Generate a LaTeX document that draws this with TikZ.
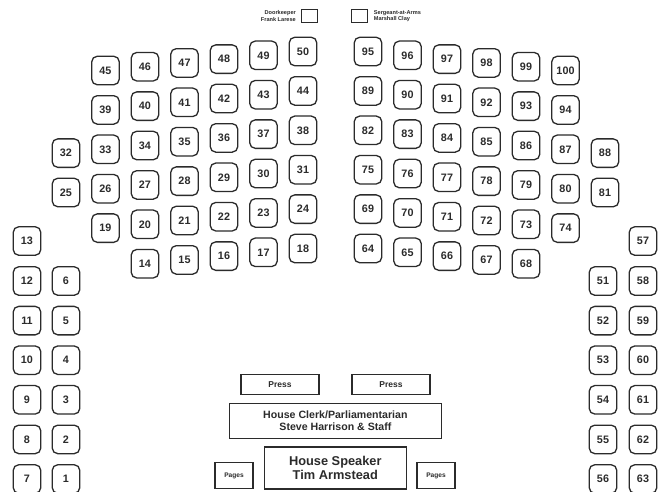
\documentclass[tikz,border=0pt]{standalone}
\usepackage{fontspec}
\setmainfont{Liberation Sans}
\definecolor{ink}{HTML}{2B2B2B}
\begin{document}
\begin{tikzpicture}[x=1pt,y=-1pt,
  seat/.style={draw=ink,line width=1.3pt,rounded corners=5.5pt,minimum width=27.5pt,minimum height=28.5pt,inner sep=0pt,text=ink,font=\fontsize{10.8}{12}\selectfont\bfseries},
  desk/.style={draw=ink,line width=1.2pt,inner sep=0pt,text=ink,align=center},
  tiny/.style={text=ink,font=\fontsize{5.6}{6.6}\selectfont\bfseries,inner sep=0pt}]
\useasboundingbox (0,0) rectangle (659,491);
\fill[white] (0,0) rectangle (659,491);
% left block
\foreach \r/\l in {0/{50,49,48,47,46,45},1/{44,43,42,41,40,39},2/{38,37,36,35,34,33,32},3/{31,30,29,28,27,26,25},4/{24,23,22,21,20,19},5/{18,17,16,15,14}}{
  \foreach \n [count=\c from 0] in \l {
    \node[seat] (s\n) at ({303-39.5*\c},{51.5+39.4*\r+3.8*\c}) {\n};
  }
}
% right block
\foreach \r/\l in {0/{95,96,97,98,99,100},1/{89,90,91,92,93,94},2/{82,83,84,85,86,87,88},3/{75,76,77,78,79,80,81},4/{69,70,71,72,73,74},5/{64,65,66,67,68}}{
  \foreach \n [count=\c from 0] in \l {
    \node[seat] (s\n) at ({368+39.5*\c},{51.5+39.4*\r+3.8*\c}) {\n};
  }
}
% side columns
\node[seat] (s13) at (27,241) {13};
\node[seat] (s57) at (643,241) {57};
\foreach \a/\b/\k in {12/6/0,11/5/1,10/4/2,9/3/3,8/2/4,7/1/5}{
  \node[seat] (s\a) at (27,{281+39.6*\k}) {\a};
  \node[seat] (s\b) at (66,{281+39.6*\k}) {\b};
}
\foreach \a/\b/\k in {51/58/0,52/59/1,53/60/2,54/61/3,55/62/4,56/63/5}{
  \node[seat] (s\a) at (603,{281+39.6*\k}) {\a};
  \node[seat] (s\b) at (643,{281+39.6*\k}) {\b};
}
% front desks
\node[desk,minimum width=78pt,minimum height=20pt,font=\fontsize{8.5}{10}\selectfont\bfseries] (pressL) at (280,384.5) {Press};
\node[desk,minimum width=78pt,minimum height=20pt,font=\fontsize{8.5}{10}\selectfont\bfseries] (pressR) at (391,384.5) {Press};
\node[desk,minimum width=212pt,minimum height=35pt,font=\fontsize{10.6}{12.4}\selectfont\bfseries] (clerk) at (335.4,421) {House Clerk/Parliamentarian\\Steve Harrison \& Staff};
\node[desk,minimum width=142pt,minimum height=42pt,font=\fontsize{12.8}{14.5}\selectfont\bfseries] (speaker) at (335.3,468) {House Speaker\\Tim Armstead};
\node[desk,minimum width=38pt,minimum height=25.5pt,font=\fontsize{6.6}{7.5}\selectfont\bfseries] (pagesL) at (234,475.5) {Pages};
\node[desk,minimum width=38pt,minimum height=25.5pt,font=\fontsize{6.6}{7.5}\selectfont\bfseries] (pagesR) at (436,475.5) {Pages};
% doorkeeper / sergeant
\node[draw=ink,line width=1pt,minimum width=16pt,minimum height=12.5pt,inner sep=0pt] (door) at (309.5,16) {};
\node[draw=ink,line width=1pt,minimum width=16pt,minimum height=12.5pt,inner sep=0pt] (sgt) at (359.7,16) {};
\node[tiny,align=right,anchor=east] (doortxt) at ([xshift=-5pt]door.west) {Doorkeeper\\Frank Larese};
\node[tiny,align=left,anchor=west] (sgttxt) at ([xshift=5.5pt]sgt.east) {Sergeant-at-Arms\\Marshall Clay};
\end{tikzpicture}
\end{document}
